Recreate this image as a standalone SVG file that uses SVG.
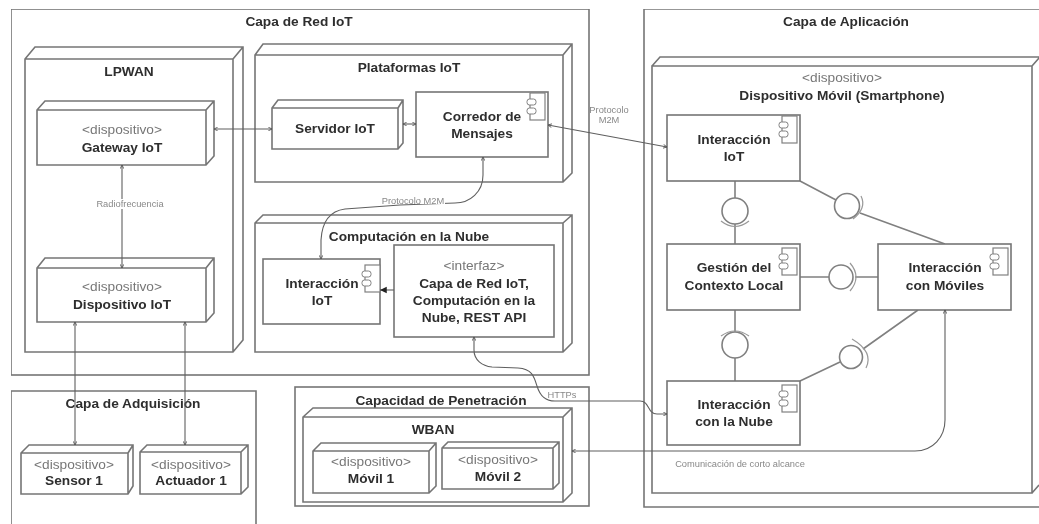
<svg xmlns="http://www.w3.org/2000/svg" width="1039" height="524" viewBox="0 0 1039 524">
<style>
.b{fill:#fff;stroke:#757575;stroke-width:1.6}
.c{fill:none;stroke:#5f5f5f;stroke-width:1.1}
.l{fill:none;stroke:#808080;stroke-width:1.6}
.r{fill:none;stroke:#999;stroke-width:1.2}
text{font-family:"Liberation Sans",Arial,sans-serif;text-anchor:middle;fill:#2e2e2e}
.t{font-size:13.7px;font-weight:bold}
.s{font-size:13.7px;fill:#777}
.m{font-size:9.3px;fill:#888}
</style>
<defs>
<filter id="soft" x="0" y="0" width="100%" height="100%"><feGaussianBlur stdDeviation="0.55"/></filter>
<marker id="a" viewBox="0 0 8 8" refX="7" refY="4" markerWidth="4.5" markerHeight="4.5" orient="auto-start-reverse"><path d="M1 1L7 4L1 7" fill="none" stroke="#555" stroke-width="1.4"/></marker>
<marker id="f" viewBox="0 0 8 8" refX="7" refY="4" markerWidth="7" markerHeight="7" orient="auto"><path d="M0 0.5L7 4L0 7.5Z" fill="#222"/></marker>
<g id="comp"><rect x="3" y="0" width="15" height="27" fill="#fff" stroke="#808080" stroke-width="1.2"/><rect x="0" y="6" width="9" height="6" rx="2.5" fill="#fff" stroke="#808080"/><rect x="0" y="15" width="9" height="6" rx="2.5" fill="#fff" stroke="#808080"/></g>
</defs>
<rect width="1039" height="524" fill="#fff"/>
<g filter="url(#soft)">
<g id="capa-red"><rect class="b" x="11" y="9" width="578" height="366"/><text class="t" x="299" y="26">Capa de Red IoT</text></g>
<g id="capa-aplicacion"><path class="b" d="M1039 9H644V507H1039"/><text class="t" x="846" y="26">Capa de Aplicación</text></g>
<g id="capa-adquisicion"><path class="b" d="M11 524V391H256V524"/><text class="t" x="133" y="408">Capa de Adquisición</text></g>
<g id="capacidad"><rect class="b" x="295" y="387" width="294" height="119"/><text class="t" x="441" y="405">Capacidad de Penetración</text></g>

<g id="lpwan"><path class="b" d="M25 59L35 47H243V340L233 352H25ZM233 59L243 47M233 59H25M233 59V352"/><text class="t" x="129" y="76">LPWAN</text></g>
<g id="gateway"><path class="b" d="M37 110L45 101H214V156L206 165H37ZM206 110L214 101M206 110H37M206 110V165"/><text class="s" x="122" y="134">&lt;dispositivo&gt;</text><text class="t" x="122" y="152">Gateway IoT</text></g>
<g id="dispositivo-iot"><path class="b" d="M37 268L45 258H214V313L206 322H37ZM206 268L214 258M206 268H37M206 268V322"/><text class="s" x="122" y="291">&lt;dispositivo&gt;</text><text class="t" x="122" y="309">Dispositivo IoT</text></g>

<g id="plataformas"><path class="b" d="M255 55L263 44H572V173L563 182H255ZM563 55L572 44M563 55H255M563 55V182"/><text class="t" x="409" y="72">Plataformas IoT</text></g>
<g id="servidor"><path class="b" d="M272 108L278 100H403V143L398 149H272ZM398 108L403 100M398 108H272M398 108V149"/><text class="t" x="335" y="133">Servidor IoT</text></g>
<g id="corredor"><rect class="b" x="416" y="92" width="132" height="65"/><use href="#comp" x="527" y="93"/><text class="t" x="482" y="121">Corredor de</text><text class="t" x="482" y="138">Mensajes</text></g>

<g id="computacion"><path class="b" d="M255 223L263 215H572V343L563 352H255ZM563 223L572 215M563 223H255M563 223V352"/><text class="t" x="409" y="241">Computación en la Nube</text></g>
<g id="interaccion-cloud"><rect class="b" x="263" y="259" width="117" height="65"/><use href="#comp" x="362" y="265"/><text class="t" x="322" y="288">Interacción</text><text class="t" x="322" y="305">IoT</text></g>
<g id="interfaz"><rect class="b" x="394" y="245" width="160" height="92"/><text class="s" x="474" y="270">&lt;interfaz&gt;</text><text class="t" x="474" y="288">Capa de Red IoT,</text><text class="t" x="474" y="305">Computación en la</text><text class="t" x="474" y="322">Nube, REST API</text></g>

<g id="sensor"><path class="b" d="M21 453L29 445H133V486L128 494H21ZM128 453L133 445M128 453H21M128 453V494"/><text class="s" x="74" y="469">&lt;dispositivo&gt;</text><text class="t" x="74" y="485">Sensor 1</text></g>
<g id="actuador"><path class="b" d="M140 452L147 445H248V487L241 494H140ZM241 452L248 445M241 452H140M241 452V494"/><text class="s" x="191" y="469">&lt;dispositivo&gt;</text><text class="t" x="191" y="485">Actuador 1</text></g>

<g id="wban"><path class="b" d="M303 417L313 408H572V493L563 502H303ZM563 417L572 408M563 417H303M563 417V502"/><text class="t" x="433" y="434">WBAN</text></g>
<g id="movil1"><path class="b" d="M313 451L321 443H436V486L429 493H313ZM429 451L436 443M429 451H313M429 451V493"/><text class="s" x="371" y="466">&lt;dispositivo&gt;</text><text class="t" x="371" y="483">Móvil 1</text></g>
<g id="movil2"><path class="b" d="M442 448L448 442H559V483L553 489H442ZM553 448L559 442M553 448H442M553 448V489"/><text class="s" x="498" y="464">&lt;dispositivo&gt;</text><text class="t" x="498" y="481">Móvil 2</text></g>

<g id="dispositivo-movil"><path class="b" d="M652 66L660 57H1039M652 66H1032V493H652ZM1032 66L1039 58M1032 493L1039 485"/><text class="s" x="842" y="82">&lt;dispositivo&gt;</text><text class="t" x="842" y="100">Dispositivo Móvil (Smartphone)</text></g>

<g id="lollipops">
<path class="l" d="M735 181V198M735 224V244M800 181L836 200M860 213L945 244M800 277H829M855 277H878M735 310V332M735 358V381M800 381L840 362M863 349L918 310"/>
<circle class="l" cx="735" cy="211" r="13"/><path class="r" d="M721 221Q735 232 749 221"/>
<circle class="l" cx="847" cy="206" r="12.5"/><path class="r" d="M861 196Q867 208 853 219"/>
<circle class="l" cx="841" cy="277" r="12"/><path class="r" d="M850 263Q862 277 850 291"/>
<circle class="l" cx="735" cy="345" r="13"/><path class="r" d="M721 336Q735 326 749 336"/>
<circle class="l" cx="851" cy="357" r="11.5"/><path class="r" d="M852 339Q874 352 866 368"/>
</g>
<g id="interaccion-iot"><rect class="b" x="667" y="115" width="133" height="66"/><use href="#comp" x="779" y="116"/><text class="t" x="734" y="144">Interacción</text><text class="t" x="734" y="161">IoT</text></g>
<g id="gestion"><rect class="b" x="667" y="244" width="133" height="66"/><use href="#comp" x="779" y="248"/><text class="t" x="734" y="272">Gestión del</text><text class="t" x="734" y="290">Contexto Local</text></g>
<g id="moviles"><rect class="b" x="878" y="244" width="133" height="66"/><use href="#comp" x="990" y="248"/><text class="t" x="945" y="272">Interacción</text><text class="t" x="945" y="290">con Móviles</text></g>
<g id="nube"><rect class="b" x="667" y="381" width="133" height="64"/><use href="#comp" x="779" y="385"/><text class="t" x="734" y="409">Interacción</text><text class="t" x="734" y="426">con la Nube</text></g>

<g id="connectors">
<path class="c" d="M214 129H272" marker-start="url(#a)" marker-end="url(#a)"/>
<path class="c" d="M403 124H416" marker-start="url(#a)" marker-end="url(#a)"/>
<path class="c" d="M548 125L667 147" marker-start="url(#a)" marker-end="url(#a)"/>
<path class="c" d="M122 165V268" marker-start="url(#a)" marker-end="url(#a)"/>
<path class="c" d="M75 322V445" marker-start="url(#a)" marker-end="url(#a)"/>
<path class="c" d="M185 322V445" marker-start="url(#a)" marker-end="url(#a)"/>
<path class="c" d="M483 157V175C483 192 470 203 455 203L400 205L345 209C330 211 322 222 321 240V259" marker-start="url(#a)" marker-end="url(#a)"/>
<path class="c" d="M394 290H380" marker-end="url(#f)"/>
<path class="c" d="M474 337V350C474 360 482 366 492 367L518 368C532 369 534 376 537 386C540 396 545 401 555 401H640C650 401 647 414 657 414H667" marker-start="url(#a)" marker-end="url(#a)"/>
<path class="c" d="M572 451H915C933 451 945 437 945 420V310" marker-start="url(#a)" marker-end="url(#a)"/>
</g>
<g id="labels">
<rect x="96" y="199" width="68" height="10" fill="#fff"/>
<text class="m" x="130" y="207">Radiofrecuencia</text>
<text class="m" x="609" y="113">Protocolo</text><text class="m" x="609" y="123">M2M</text>
<rect x="381" y="197" width="64" height="7" fill="#fff"/>
<text class="m" x="413" y="204">Protocolo M2M</text>
<text class="m" x="562" y="398">HTTPs</text>
<text class="m" x="740" y="467">Comunicación de corto alcance</text>
</g>
</g>
</svg>
